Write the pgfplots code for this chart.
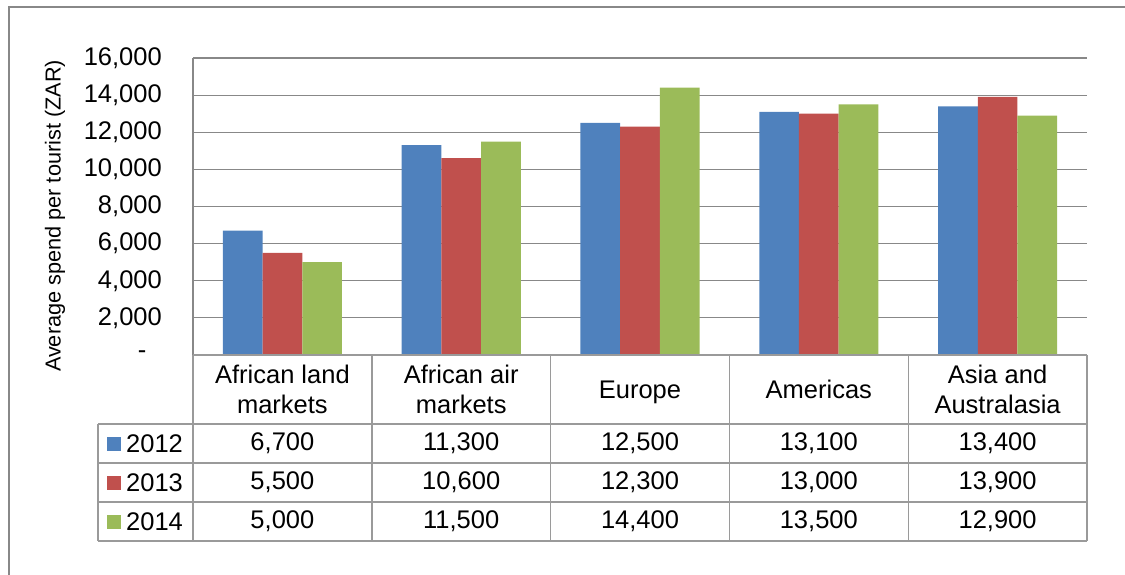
\documentclass[border=0pt]{standalone}
\usepackage{fontspec}
\setmainfont{Liberation Sans}
\usepackage{pgfplots}
\usepackage{pgfplotstable}
\pgfplotsset{compat=1.18}

\definecolor{s12}{HTML}{4F81BD}
\definecolor{s13}{HTML}{C0504D}
\definecolor{s14}{HTML}{9BBB59}
\definecolor{gridc}{HTML}{888888}
\definecolor{tabc}{HTML}{9A9A9A}

% Average spend per tourist (ZAR) by source market and year
\pgfplotstableread{
idx y2012 y2013 y2014
0 6700 5500 5000
1 11300 10600 11500
2 12500 12300 14400
3 13100 13000 13500
4 13400 13900 12900
}\spend

\pgfkeys{/pgf/number format/.cd, fixed, precision=0, 1000 sep={,}, assume math mode=true}

\newcommand\bigfont{\fontsize{25.5}{30}\selectfont}

\begin{document}
\begin{tikzpicture}[x=1pt,y=1pt]
\useasboundingbox (0,0) rectangle (1125,574);
% chart frame
\draw[gridc, line width=1.3pt] (9,-20) -- (9,567) -- (1150,567);

\begin{axis}[
  at={(193pt,219pt)}, anchor=south west,
  scale only axis, width=894pt, height=297pt,
  xmin=-0.5, xmax=4.5, ymin=0, ymax=16000,
  enlargelimits=false,
  ybar=0pt, bar width=39.7pt,
  axis line style={draw=none},
  xtick=\empty,
  ytick={0,2000,...,16000},
  scaled y ticks=false,
  yticklabels={\makebox[24pt][l]{-},{2,000},{4,000},{6,000},{8,000},{10,000},{12,000},{14,000},{16,000}},
  major tick length=0pt,
  yticklabel style={anchor=east, inner sep=0pt, xshift=-31pt, font=\bigfont},
  ymajorgrids, grid style={gridc, line width=1.1pt},
  clip=false,
]
\addplot[fill=s12, draw=none] table[x=idx, y=y2012]{\spend};
\addplot[fill=s13, draw=none] table[x=idx, y=y2013]{\spend};
\addplot[fill=s14, draw=none] table[x=idx, y=y2014]{\spend};
\end{axis}

% value axis line
\draw[gridc, line width=1.1pt] (193,219) -- (193,516);
\node[rotate=90, font=\fontsize{21.7}{26}\selectfont] at (55,358) {Average spend per tourist (ZAR)};

% data table grid
\begin{scope}[tabc, line width=1.4pt]
  \draw (193,219) -- (1087,219);
  \draw (98,150) -- (1087,150);
  \draw (98,111) -- (1087,111);
  \draw (98,72) -- (1087,72);
  \draw (98,33) -- (1087,33);
  \draw (98,150) -- (98,33);
  \foreach \xx in {193,371.8,550.6,729.4,908.2,1087} \draw (\xx,219) -- (\xx,33);
\end{scope}

% column headings
\begin{scope}[every node/.style={align=center, font=\bigfont, inner sep=0pt, text depth=0pt}]
  \node at (282.4,184.5) {African land\\markets};
  \node at (461.2,184.5) {African air\\markets};
  \node at (640,184.5) {Europe};
  \node at (818.8,184.5) {Americas};
  \node at (997.6,184.5) {Asia and\\Australasia};
\end{scope}

% legend keys and row headings
\foreach \col/\yy/\lab in {s12/130.5/2012, s13/91.5/2013, s14/52.5/2014}{
  \fill[\col] (107,\yy-7) rectangle (121,\yy+7);
  \node[anchor=west, inner sep=0pt, font=\bigfont] at (126,\yy) {\lab};
}

% table values
\foreach \r in {0,...,4}{
  \foreach \c/\yy in {y2012/130.5, y2013/91.5, y2014/52.5}{
    \pgfplotstablegetelem{\r}{\c}\of\spend
    \node[inner sep=0pt, font=\bigfont] at ({282.4+178.8*\r},\yy) {\pgfmathprintnumber{\pgfplotsretval}};
  }
}
\end{tikzpicture}
\end{document}
